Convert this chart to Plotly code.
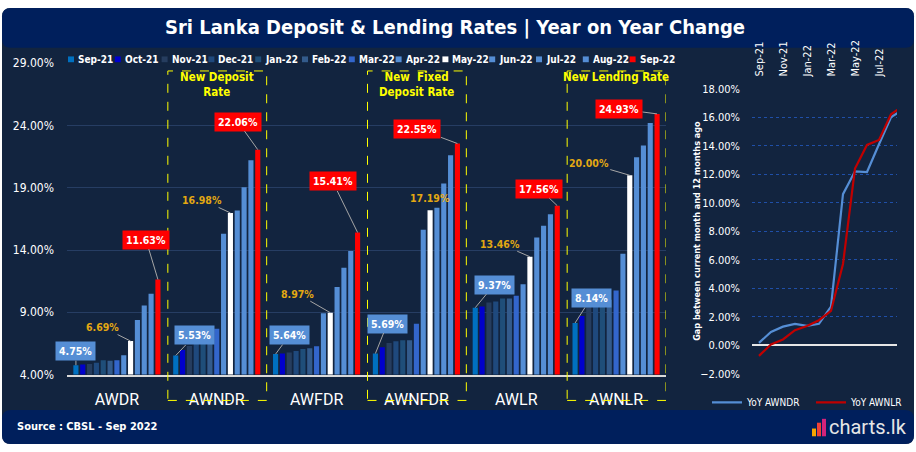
import plotly.graph_objects as go

W, H = 916, 452
COND = "DejaVu Sans Condensed, Liberation Sans Narrow, Arial Narrow, sans-serif"

categories = ['AWDR', 'AWNDR', 'AWFDR', 'AWNFDR', 'AWLR', 'AWNLR']
months = ['Sep-21', 'Oct-21', 'Nov-21', 'Dec-21', 'Jan-22', 'Feb-22', 'Mar-22',
          'Apr-22', 'May-22', 'Jun-22', 'Jul-22', 'Aug-22', 'Sep-22']

sep21 = [4.75, 5.53, 5.64, 5.69, 9.37, 8.14]
oct21 = [4.80, 5.97, 5.70, 6.20, 9.47, 8.70]
nov21 = [4.85, 6.30, 5.78, 6.54, 9.78, 9.50]
dec21 = [4.95, 6.50, 5.90, 6.67, 9.86, 9.75]
jan22 = [5.15, 6.60, 6.05, 6.75, 10.10, 9.90]
feb22 = [5.10, 6.70, 6.12, 6.75, 10.10, 10.00]
mar22 = [5.15, 7.68, 6.28, 8.07, 10.33, 10.74]
apr22 = [5.55, 15.30, 8.93, 15.62, 11.26, 13.70]
may22 = [6.69, 16.98, 8.97, 17.19, 13.46, 20.00]
jun22 = [8.38, 17.17, 11.03, 17.40, 15.00, 21.45]
jul22 = [9.55, 19.04, 12.58, 19.35, 15.94, 22.40]
aug22 = [10.48, 21.20, 13.93, 21.60, 16.87, 24.20]
sep22 = [11.63, 22.06, 15.41, 22.55, 17.56, 24.93]

yoy_awndr = [0.16, 0.93, 1.30, 1.50, 1.35, 1.50, 2.70, 10.60, 12.20, 12.15, 14.10, 16.00, 16.53]
yoy_awnlr = [-0.75, 0.05, 0.40, 1.05, 1.35, 1.75, 2.40, 5.70, 12.40, 14.05, 14.40, 16.20, 16.79]

series = [sep21, oct21, nov21, dec21, jan22, feb22, mar22,
          apr22, may22, jun22, jul22, aug22, sep22]
bar_colors = ['#0070c0', '#0000cc', '#263d5f', '#1f497d', '#1f4e79', '#335b8c', '#3366cc',
              '#558ed5', '#ffffff', '#558ed5', '#558ed5', '#558ed5', '#ff0000']


def X(px):
    return px / W


def Y(py):
    return 1 - py / H


fig = go.Figure()

for m, vals, c in zip(months, series, bar_colors):
    fig.add_trace(go.Bar(x=categories, y=vals, name=m, marker_color=c,
                         marker_line_width=0, showlegend=False,
                         xaxis='x', yaxis='y'))

fig.add_trace(go.Scatter(x=months, y=yoy_awndr, name='YoY AWNDR', mode='lines',
                         line=dict(color='#558ed5', width=2.2),
                         xaxis='x2', yaxis='y2', legend='legend2'))
fig.add_trace(go.Scatter(x=months, y=yoy_awnlr, name='YoY AWNLR', mode='lines',
                         line=dict(color='#c00000', width=2.2),
                         xaxis='x2', yaxis='y2', legend='legend2'))

shapes = []
annotations = []

# card background, title band and footer
r = 9
def rounded(x0, y0, x1, y1, rad, top=True, bottom=True):
    rx, ry = rad / W, rad / H
    a, b, c, d = X(x0), Y(y0), X(x1), Y(y1)
    p = ''
    if top:
        p += f'M{a},{b - ry} Q{a},{b} {a + rx},{b} L{c - rx},{b} Q{c},{b} {c},{b - ry} '
    else:
        p += f'M{a},{b} L{c},{b} '
    if bottom:
        p += f'L{c},{d + ry} Q{c},{d} {c - rx},{d} L{a + rx},{d} Q{a},{d} {a},{d + ry} Z'
    else:
        p += f'L{c},{d} L{a},{d} Z'
    return p

shapes.append(dict(type='path', xref='paper', yref='paper', layer='below',
                   path=rounded(2, 1, 914, 451, r), fillcolor='#12243f', line_width=0))
shapes.append(dict(type='path', xref='paper', yref='paper', layer='below',
                   path=rounded(2, 1, 914, 42, r), fillcolor='#001f5c', line_width=0))
shapes.append(dict(type='path', xref='paper', yref='paper', layer='below',
                   path=rounded(2, 416, 914, 451, r), fillcolor='#001f5c', line_width=0))

annotations.append(dict(xref='paper', yref='paper', x=X(455), y=Y(21), showarrow=False,
                        text='<b>Sri Lanka Deposit &amp; Lending Rates | Year on Year Change</b>',
                        font=dict(family=COND, size=20, color='white'),
                        xanchor='center', yanchor='middle'))
annotations.append(dict(xref='paper', yref='paper', x=X(15), y=Y(433), showarrow=False,
                        text='<b>Source : CBSL - Sep 2022</b>',
                        font=dict(family=COND, size=11, color='white'),
                        xanchor='left', yanchor='middle'))
# charts.lk logo
for (x0, x1, y0, c) in [(812, 816, 435, '#f7a600'), (817, 821, 429, '#ef4136'), (822, 826, 425, '#d4237a')]:
    shapes.append(dict(type='rect', xref='paper', yref='paper', x0=X(x0), x1=X(x1),
                       y0=Y(443), y1=Y(y0), fillcolor=c, line_width=0))
annotations.append(dict(xref='paper', yref='paper', x=X(827), y=Y(433), showarrow=False,
                        text='charts.lk', font=dict(family='Roboto', size=20, color='#e6e6e6'),
                        xanchor='left', yanchor='middle'))

# custom legend for bar months
for k, (m, c) in enumerate(zip(months, bar_colors)):
    lx = 68 + 46.8 * k
    shapes.append(dict(type='rect', xref='paper', yref='paper', x0=X(lx), x1=X(lx + 6),
                       y0=Y(57), y1=Y(51), fillcolor=c, line_width=0))
    annotations.append(dict(xref='paper', yref='paper', x=X(lx + 8), y=Y(54), showarrow=False,
                            text=f'<b>{m}</b>', font=dict(family=COND, size=10, color='white'),
                            xanchor='left', yanchor='middle'))

# dashed highlight boxes
box_titles = {1: 'New Deposit<br>Rate', 3: 'New  Fixed<br>Deposit Rate', 5: 'New Lending Rate'}
for i, t in box_titles.items():
    shapes.append(dict(type='rect', xref='x', yref='paper', x0=i - 0.49, x1=i + 0.5,
                       y0=Y(406), y1=Y(66), line=dict(color='#ffff00', width=1, dash='dash'),
                       fillcolor='rgba(0,0,0,0)'))
    annotations.append(dict(xref='x', yref='paper', x=i, y=Y(63), showarrow=False,
                            text=f'<b>{t}</b>', font=dict(family=COND, size=11.5, color='#ffff00'),
                            xanchor='center', yanchor='top'))

# data labels
group_w = 0.89
step = group_w / 13


def bar_x(i, k):
    return i - group_w / 2 + step * (k + 0.5)


sep21_off = [(0, -14), (19, -20), (14, -19), (12, -30), (19, -23), (16, -25)]
sep22_off = [(-12, -40), (-20, -28), (-25, -51), (-40, -15), (-18, -17), (-38, -5)]
may22_off = [(-28, -14), (-28, -13), (-33, -19), (0, -13), (-30, -13), (-41, -12)]

for i in range(len(categories)):
    annotations.append(dict(x=bar_x(i, 0), y=sep21[i], xref='x', yref='y',
                            text=f'<b>{sep21[i]:.2f}%</b>', showarrow=True, arrowhead=0,
                            arrowcolor='#a6a6a6', arrowwidth=1,
                            ax=sep21_off[i][0], ay=sep21_off[i][1],
                            bgcolor='#558ed5', borderpad=3,
                            font=dict(family=COND, size=10.5, color='white')))
    annotations.append(dict(x=bar_x(i, 12), y=sep22[i], xref='x', yref='y',
                            text=f'<b>{sep22[i]:.2f}%</b>', showarrow=True, arrowhead=0,
                            arrowcolor='#a6a6a6', arrowwidth=1,
                            ax=sep22_off[i][0], ay=sep22_off[i][1],
                            bgcolor='#ff0000', borderpad=3,
                            font=dict(family=COND, size=10.5, color='white')))
    annotations.append(dict(x=bar_x(i, 8), y=may22[i], xref='x', yref='y',
                            text=f'<b>{may22[i]:.2f}%</b>', showarrow=may22_off[i][0] != 0,
                            arrowhead=0, arrowcolor='#a6a6a6', arrowwidth=1,
                            ax=may22_off[i][0], ay=may22_off[i][1],
                            yshift=0 if may22_off[i][0] else 12,
                            font=dict(family=COND, size=10.5, color='#e3a812')))

# right chart y title
annotations.append(dict(xref='paper', yref='paper', x=X(697), y=Y(231), showarrow=False,
                        text='<b>Gap between current month and 12 months ago</b>', textangle=-90,
                        font=dict(family=COND, size=9, color='white'),
                        xanchor='center', yanchor='middle'))

fig.update_layout(
    width=W, height=H,
    margin=dict(l=0, r=0, t=0, b=0),
    paper_bgcolor='white',
    plot_bgcolor='rgba(0,0,0,0)',
    barmode='group', bargap=0.11, bargroupgap=0.25,
    shapes=shapes, annotations=annotations,
    xaxis=dict(domain=[X(67), X(666)], type='category', range=[-0.5, 5.5],
               showline=True, linecolor='#d9d9d9', linewidth=1.5, showgrid=False,
               ticks='', ticklabelstandoff=9,
               tickfont=dict(family='Roboto', size=16, color='white')),
    yaxis=dict(domain=[Y(379.3), Y(58)], range=[4, 29], dtick=5, tick0=4,
               tickformat='.2f', ticksuffix='%', showgrid=True, gridcolor='#263d63',
               gridwidth=1, zeroline=False, ticklabelstandoff=12,
               tickfont=dict(family=COND, size=12, color='white')),
    xaxis2=dict(domain=[X(752), X(897)], anchor='y2', type='category', side='top',
                range=[-0.58, 11.5], dtick=2, tickangle=-90, showgrid=False,
                showline=False, ticks='outside', ticklen=9, tickcolor='rgba(0,0,0,0)',
                tickfont=dict(family=COND, size=11, color='white')),
    yaxis2=dict(domain=[Y(378.4), Y(84.3)], anchor='x2', range=[-2, 18], dtick=2,
                tickformat='.2f', ticksuffix='%', showgrid=True, gridcolor='#1f4fa8',
                griddash='dot', gridwidth=1, zeroline=True, zerolinecolor='#e6e6e6',
                zerolinewidth=1.5, ticklabelstandoff=11,
                tickfont=dict(family=COND, size=11, color='white')),
    legend2=dict(orientation='h', x=X(707), y=Y(393), xanchor='left', yanchor='top',
                 bgcolor='rgba(0,0,0,0)', itemwidth=30, entrywidth=59, entrywidthmode='pixels',
                 font=dict(family=COND, size=10, color='white')),
)

fig.write_html("out.html", config={'displayModeBar': False},
               post_script="document.body.style.margin='0';")
